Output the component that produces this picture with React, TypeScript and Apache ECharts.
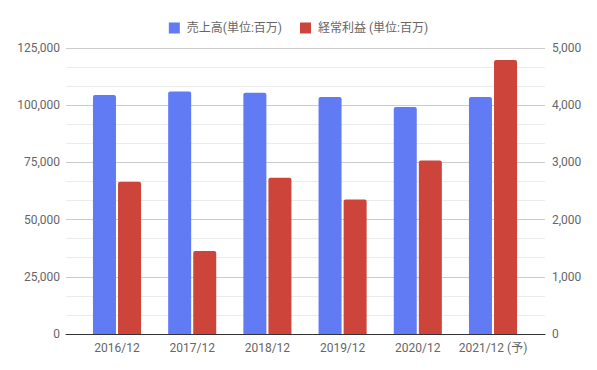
import React, { useEffect, useRef } from "react";
import * as echarts from "echarts";

const categories = ["2016/12", "2017/12", "2018/12", "2019/12", "2020/12", "2021/12 (予)"];
const salesValues = [104500, 106000, 105400, 103600, 99250, 103600];
const profitValues = [2660, 1453, 2730, 2350, 3033, 4790];
const seriesNames = ["売上高(単位:百万)", "経常利益 (単位:百万)"];

const FONT = "Roboto, 'Noto Sans CJK JP', sans-serif";

export default function App() {
  const ref = useRef<HTMLDivElement>(null);
  useEffect(() => {
    if (!ref.current) return;
    const chart = echarts.init(ref.current, null, { renderer: "svg" });
    const fmt = (v: number) => v.toLocaleString("en-US");
    chart.setOption({
      animation: false,
      textStyle: { fontFamily: FONT },
      legend: {
        top: 17,
        left: "center",
        itemWidth: 11,
        itemHeight: 11,
        itemGap: 18,
        icon: "rect",
        textStyle: { color: "#666", fontSize: 12, fontFamily: FONT, padding: [0, 0, 0, 2] },
        data: seriesNames,
      },
      grid: [
        { left: 66, right: 52, top: 48, bottom: 36 },
        { left: 79.4, right: 66.4, top: 48, bottom: 36 },
      ],
      xAxis: [
        {
          gridIndex: 0,
          type: "category",
          data: categories,
          axisTick: { show: false },
          axisLine: { lineStyle: { color: "#333", width: 1 } },
          axisLabel: { show: false },
          z: 5,
        },
        {
          gridIndex: 1,
          type: "category",
          data: categories,
          axisTick: { show: false },
          axisLine: { show: false },
          axisLabel: { color: "#666", fontSize: 12, margin: 8, fontFamily: FONT, interval: 0 },
        },
      ],
      yAxis: [
        {
          gridIndex: 0,
          type: "value",
          min: 0,
          max: 125000,
          interval: 25000,
          axisLine: { show: false },
          axisTick: { show: false },
          axisLabel: { color: "#666", fontSize: 12, margin: 6, fontFamily: FONT, formatter: fmt },
          splitLine: { lineStyle: { color: "#cccccc" } },
          minorTick: { show: false, splitNumber: 3 },
          minorSplitLine: { show: true, lineStyle: { color: "#ebebeb" } },
        },
        {
          gridIndex: 0,
          type: "value",
          min: 0,
          max: 5000,
          interval: 1000,
          position: "right",
          axisLine: { show: false },
          axisTick: { show: false },
          axisLabel: { color: "#666", fontSize: 12, margin: 7, fontFamily: FONT, formatter: fmt },
          splitLine: { show: false },
        },
        {
          gridIndex: 1,
          type: "value",
          min: 0,
          max: 125000,
          interval: 25000,
          show: false,
          splitLine: { show: false },
        },
        {
          gridIndex: 1,
          type: "value",
          min: 0,
          max: 5000,
          interval: 1000,
          show: false,
          splitLine: { show: false },
        },
      ],
      series: [
        {
          name: seriesNames[0],
          type: "bar",
          xAxisIndex: 1,
          yAxisIndex: 2,
          data: salesValues,
          barWidth: 23,
          barGap: "9%",
          itemStyle: { color: "#607bf3", borderRadius: [2, 2, 0, 0] },
        },
        {
          name: seriesNames[1],
          type: "bar",
          xAxisIndex: 1,
          yAxisIndex: 3,
          data: profitValues,
          barWidth: 23,
          barGap: "9%",
          itemStyle: { color: "#cc443a", borderRadius: [2, 2, 0, 0] },
        },
      ],
    });
    return () => chart.dispose();
  }, []);
  return <div ref={ref} style={{ width: 597, height: 370, position: "absolute", left: 0, top: 0 }} />;
}
